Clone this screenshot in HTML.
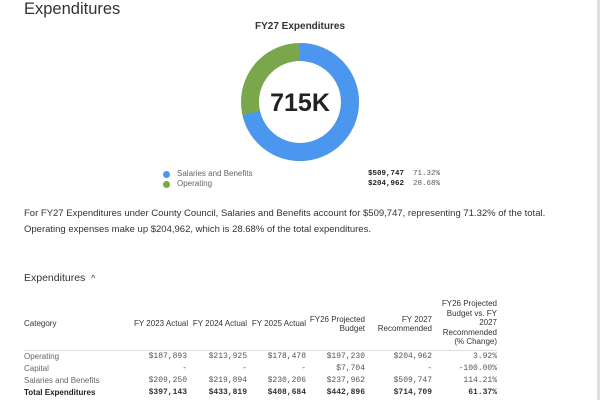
<!DOCTYPE html>
<html><head><style>
body{margin:0;width:600px;height:400px;overflow:hidden;background:#fff;font-family:"Liberation Sans",sans-serif;color:#222;position:relative}
.a{position:absolute;white-space:nowrap}
.m{font-family:"Liberation Mono",monospace}
table{position:absolute;left:24px;top:299px;border-collapse:collapse;font-size:8px;color:#333;table-layout:fixed;width:473px}
td,th{padding:0;height:12px;white-space:nowrap}
th{font-weight:normal;vertical-align:bottom;text-align:right;line-height:9.5px;border-bottom:1.5px solid #ddd;padding-bottom:3px}
td{text-align:right;font-family:"Liberation Mono",monospace;color:#555}
td:first-child,th:first-child{text-align:left;font-family:"Liberation Sans",sans-serif}
</style></head><body>
<div style="position:absolute;left:597px;top:0;width:3px;height:400px;background:#e0e0e0"></div>
<div class="a" style="left:24px;top:0;font-size:16.5px;color:#333">Expenditures</div>
<div class="a" style="left:0;width:600px;text-align:center;top:21px;font-size:10px;font-weight:bold;color:#333">FY27 Expenditures</div>
<svg class="a" style="left:0;top:0" width="600" height="170">
<g transform="rotate(-90 300 102)">
<circle cx="300" cy="102" r="50" fill="none" stroke="#7aa64c" stroke-width="18"/>
<circle cx="300" cy="102" r="50" fill="none" stroke="#4b97f0" stroke-width="18" stroke-dasharray="224.06 400"/>
</g>
<text x="300" y="111" text-anchor="middle" font-family="Liberation Sans" font-weight="bold" font-size="25" fill="#222">715K</text>
</svg>
<div class="a" style="left:163px;top:171px;width:7px;height:7px;border-radius:50%;background:#4b97f0"></div>
<div class="a" style="left:163px;top:181px;width:7px;height:7px;border-radius:50%;background:#7aa64c"></div>
<div class="a" style="left:177px;top:169px;font-size:8px;color:#666">Salaries and Benefits</div>
<div class="a" style="left:177px;top:179px;font-size:8px;color:#666">Operating</div>
<div class="a m" style="left:368px;top:170px;font-size:7.5px;font-weight:bold">$509,747 <span style="font-weight:normal;color:#555">&nbsp;71.32%</span></div>
<div class="a m" style="left:368px;top:180px;font-size:7.5px;font-weight:bold">$204,962 <span style="font-weight:normal;color:#555">&nbsp;28.68%</span></div>
<div class="a" style="left:24px;top:206px;font-size:9.5px;line-height:16px;color:#333">For FY27 Expenditures under County Council, Salaries and Benefits account for $509,747, representing 71.32% of the total.<br>Operating expenses make up $204,962, which is 28.68% of the total expenditures.</div>
<div class="a" style="left:24px;top:272px;font-size:10.5px;color:#333">Expenditures &nbsp;<span style="font-size:9px">^</span></div>
<table>
<colgroup><col style="width:110px"><col style="width:53px"><col style="width:60px"><col style="width:59px"><col style="width:59px"><col style="width:67px"><col style="width:65px"></colgroup>
<tr><th style="padding-bottom:21px">Category</th><th style="padding-bottom:21px">FY 2023 Actual</th><th style="padding-bottom:21px">FY 2024 Actual</th><th style="padding-bottom:21px">FY 2025 Actual</th><th style="padding-bottom:16px">FY26 Projected<br>Budget</th><th style="padding-bottom:16px">FY 2027<br>Recommended</th><th>FY26 Projected<br>Budget vs. FY<br>2027<br>Recommended<br>(% Change)</th></tr>
<tr><td style="color:#666">Operating</td><td>$187,893</td><td>$213,925</td><td>$178,478</td><td>$197,230</td><td>$204,962</td><td>3.92%</td></tr>
<tr><td style="color:#666">Capital</td><td>-</td><td>-</td><td>-</td><td>$7,704</td><td>-</td><td>-100.00%</td></tr>
<tr><td style="color:#666">Salaries and Benefits</td><td>$209,250</td><td>$219,894</td><td>$230,206</td><td>$237,962</td><td>$509,747</td><td>114.21%</td></tr>
<tr style="font-weight:bold"><td style="color:#222">Total Expenditures</td><td style="color:#333">$397,143</td><td style="color:#333">$433,819</td><td style="color:#333">$408,684</td><td style="color:#333">$442,896</td><td style="color:#333">$714,709</td><td style="color:#333">61.37%</td></tr>
</table>
</body></html>
